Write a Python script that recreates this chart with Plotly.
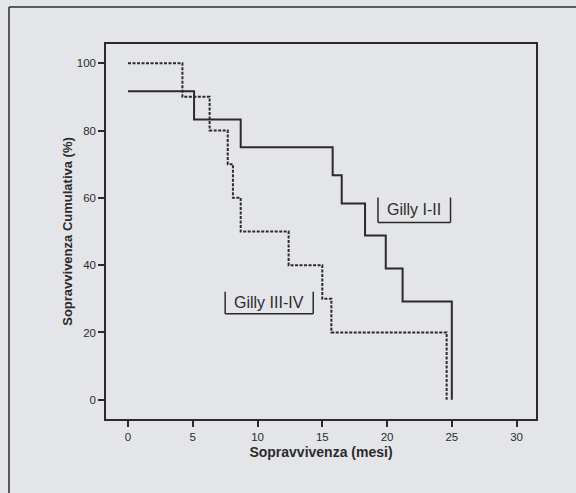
import plotly.graph_objects as go

# Kaplan-Meier data
months_I_II = [0, 5.1, 8.7, 15.8, 16.5, 18.3, 19.9, 21.2, 25.0]
surv_I_II = [91.7, 83.3, 75.0, 66.7, 58.3, 48.8, 39.0, 29.2, 0]

months_III_IV = [0, 4.2, 6.3, 7.7, 8.1, 8.7, 12.4, 15.0, 15.7, 24.6]
surv_III_IV = [100, 90, 80, 70, 60, 50, 40, 30, 20, 0]

x_ticks = [0, 5, 10, 15, 20, 25, 30]
y_ticks = [0, 20, 40, 60, 80, 100]

label_I_II = "Gilly I-II"
label_III_IV = "Gilly III-IV"

ink = "#2b2b2b"
bg = "#e4e5e8"

fig = go.Figure()
fig.add_trace(go.Scatter(x=months_I_II, y=surv_I_II, mode="lines",
                         line=dict(shape="hv", color=ink, width=2),
                         name=label_I_II, showlegend=False))
fig.add_trace(go.Scatter(x=months_III_IV, y=surv_III_IV, mode="lines",
                         line=dict(shape="hv", color=ink, width=2, dash="3px,1.5px"),
                         name=label_III_IV, showlegend=False))

shapes = []
def label_box(x0, x1, y0, y1):
    for (a, b, c, d) in [(x0, y1, x0, y0), (x0, y0, x1, y0), (x1, y0, x1, y1)]:
        shapes.append(dict(type="line", xref="x", yref="y", x0=a, y0=b, x1=c, y1=d,
                           line=dict(color=ink, width=1.5)))

label_box(19.3, 24.9, 52.7, 60.1)
label_box(7.5, 14.3, 25.6, 32.1)

# outer page frame (left and top)
shapes.append(dict(type="line", xref="paper", yref="paper", x0=-0.2256, x1=-0.2256,
                   y0=1.0987, y1=-0.3, line=dict(color=ink, width=1.5)))
shapes.append(dict(type="line", xref="paper", yref="paper", x0=-0.2256, x1=1.2,
                   y0=1.0987, y1=1.0987, line=dict(color=ink, width=1.5)))

annotations = [
    dict(x=22.1, y=56.6, xref="x", yref="y", text=label_I_II, showarrow=False,
         font=dict(family="Liberation Sans, Arial", size=16, color=ink)),
    dict(x=10.9, y=29.0, xref="x", yref="y", text=label_III_IV, showarrow=False,
         font=dict(family="Liberation Sans, Arial", size=16, color=ink)),
]

fig.update_layout(
    width=576, height=493,
    margin=dict(l=106, r=40, t=44, b=74),
    paper_bgcolor=bg, plot_bgcolor=bg,
    font=dict(family="Liberation Sans, Arial", color=ink),
    shapes=shapes, annotations=annotations,
    showlegend=False,
)
fig.update_xaxes(range=[-1.7, 31.5], tickvals=x_ticks, ticks="outside", ticklen=6,
                 tickcolor=ink, tickwidth=1.5, showgrid=False, zeroline=False,
                 showline=True, linecolor=ink, linewidth=1.5, mirror=True,
                 tickfont=dict(size=11.5, color=ink),
                 title=dict(text="<b>Sopravvivenza (mesi)</b>", font=dict(size=14, color=ink), standoff=6))
fig.update_yaxes(range=[-5.7, 105.7], tickvals=y_ticks, ticks="outside", ticklen=6,
                 tickcolor=ink, tickwidth=1.5, showgrid=False, zeroline=False,
                 showline=True, linecolor=ink, linewidth=1.5, mirror=True,
                 tickfont=dict(size=11.5, color=ink),
                 title=dict(text="<b>Sopravvivenza Cumulativa (%)</b>", font=dict(size=13, color=ink), standoff=1))

fig.write_html("out.html", config={"displayModeBar": False},
               post_script="document.body.style.margin='0';document.body.style.background='%s';" % bg)
